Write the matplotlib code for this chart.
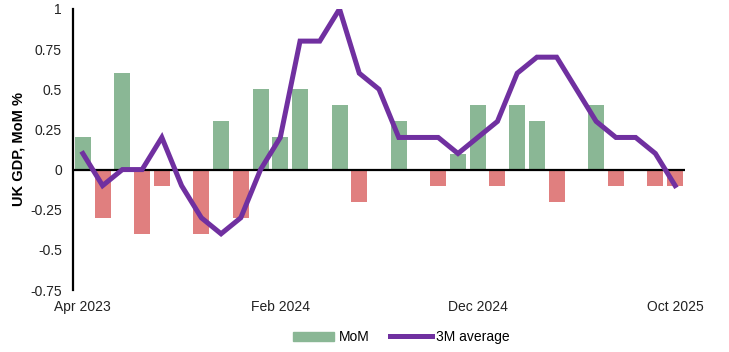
import numpy as np
import matplotlib.pyplot as plt
from matplotlib.patches import Patch
from matplotlib.lines import Line2D

plt.rcParams['font.family'] = ['Liberation Sans', 'DejaVu Sans']

months = ["Apr 2023", "May 2023", "Jun 2023", "Jul 2023", "Aug 2023", "Sep 2023",
          "Oct 2023", "Nov 2023", "Dec 2023", "Jan 2024", "Feb 2024", "Mar 2024",
          "Apr 2024", "May 2024", "Jun 2024", "Jul 2024", "Aug 2024", "Sep 2024",
          "Oct 2024", "Nov 2024", "Dec 2024", "Jan 2025", "Feb 2025", "Mar 2025",
          "Apr 2025", "May 2025", "Jun 2025", "Jul 2025", "Aug 2025", "Sep 2025",
          "Oct 2025"]
mom = [0.2, -0.3, 0.6, -0.4, -0.1, 0.0, -0.4, 0.3, -0.3, 0.5, 0.2, 0.5,
       0.0, 0.4, -0.2, 0.0, 0.3, 0.0, -0.1, 0.1, 0.4, -0.1, 0.4, 0.3,
       -0.2, 0.0, 0.4, -0.1, 0.0, -0.1, -0.1]
avg3m = [0.1, -0.1, 0.0, 0.0, 0.2, -0.1, -0.3, -0.4, -0.3, 0.0, 0.2, 0.8,
         0.8, 1.0, 0.6, 0.5, 0.2, 0.2, 0.2, 0.1, 0.2, 0.3, 0.6, 0.7,
         0.7, 0.5, 0.3, 0.2, 0.2, 0.1, -0.1]
yticks = [-0.75, -0.5, -0.25, 0, 0.25, 0.5, 0.75, 1]
ytick_labels = ["-0.75", "-0.5", "-0.25", "0", "0.25", "0.5", "0.75", "1"]
xtick_idx = [0, 10, 20, 30]

green = "#8ab795"
red = "#e07f7f"
purple = "#7030a0"

fig = plt.figure(figsize=(7.29, 3.52), dpi=100)
ax = fig.add_axes([73 / 729, 62 / 352, 612 / 729, 281 / 352])

x = np.arange(len(months))
cols = [green if v >= 0 else red for v in mom]
ax.bar(x, mom, width=0.81, color=cols, zorder=2)
ax.axhline(0, color="black", lw=1.6, zorder=3)
ax.plot(x, avg3m, color=purple, lw=3.6, solid_joinstyle="miter", zorder=4)

ax.set_xlim(-0.5, len(months) - 0.5)
ax.set_ylim(-0.75, 1)
ax.set_yticks(yticks)
ax.set_yticklabels(ytick_labels)
ax.set_xticks(xtick_idx)
ax.set_xticklabels([months[i] for i in xtick_idx])
ax.tick_params(axis="both", length=0, labelsize=10, colors="#222222")
ax.tick_params(axis="x", pad=7)
ax.tick_params(axis="y", pad=8)
for s in ["top", "right", "bottom"]:
    ax.spines[s].set_visible(False)
ax.spines["left"].set_linewidth(1.6)
ax.set_ylabel("UK GDP, MoM %", fontsize=10.5, fontweight="bold", labelpad=3)

handles = [Patch(color=green, label="MoM"),
           Line2D([0], [0], color=purple, lw=3.6, label="3M average")]
fig.legend(handles=handles, loc="center", bbox_to_anchor=(401 / 729, 15 / 352),
           ncol=2, frameon=False, fontsize=10, handlelength=3.0, handleheight=0.6,
           handletextpad=0.3, columnspacing=1.5)

fig.savefig("out.png", dpi=100)
